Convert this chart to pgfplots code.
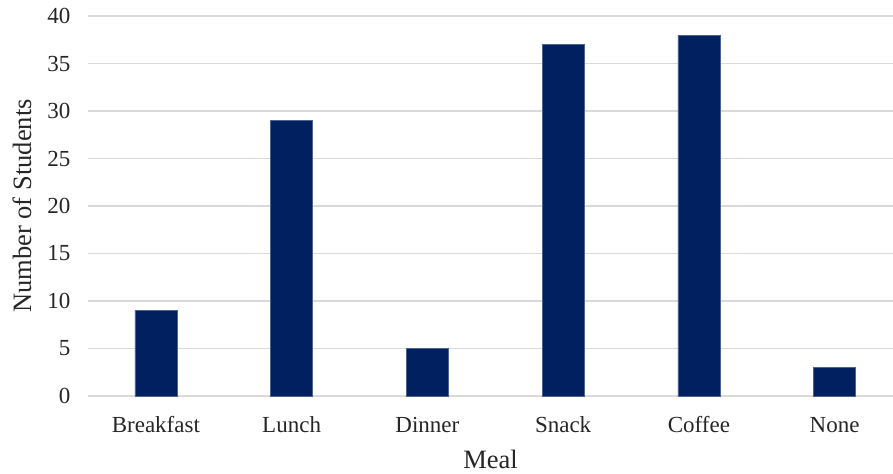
\documentclass[border=0pt]{standalone}
\usepackage{pgfplots}
\pgfplotsset{compat=1.18}
\usepackage{fontspec}
\setmainfont{Liberation Serif}
\definecolor{barblue}{HTML}{002060}
\definecolor{gridgray}{HTML}{D9D9D9}
\begin{document}
\begin{tikzpicture}
\path[use as bounding box] (-88bp,-78bp) rectangle (805bp,396bp);
\begin{axis}[
  at={(0,0)}, anchor=south west,
  scale only axis,
  width=805bp, height=380bp,
  xmin=-0.5, xmax=5.43,
  ymin=0, ymax=40,
  ytick={0,5,...,40},
  xtick={0,1,2,3,4,5},
  xticklabels={Breakfast,Lunch,Dinner,Snack,Coffee,None},
  /pgf/number format/assume math mode=true,
  axis line style={draw=none},
  major tick length=0pt,
  ymajorgrids,
  grid style={gridgray, line width=1.2bp},
  ybar, bar width=42bp,
  clip=false,
  tick label style={font=\fontsize{23bp}{27bp}\selectfont, text=black!85},
  yticklabel style={anchor=east, xshift=-14bp},
  xticklabel style={anchor=base, yshift=-36bp},
  ylabel={Number of Students},
  xlabel={Meal},
  label style={font=\fontsize{26.5bp}{30bp}\selectfont, text=black!85},
  ylabel style={at={(axis description cs:-0.082,0.5)}, anchor=center, rotate=0},
  xlabel style={at={(axis description cs:0.5,0)}, anchor=base, yshift=-72bp},
]
\addplot[fill=barblue, draw=barblue!70!white, line width=0.5bp] coordinates {(0,9) (1,29) (2,5) (3,37) (4,38) (5,3)};
\end{axis}
\end{tikzpicture}
\end{document}
